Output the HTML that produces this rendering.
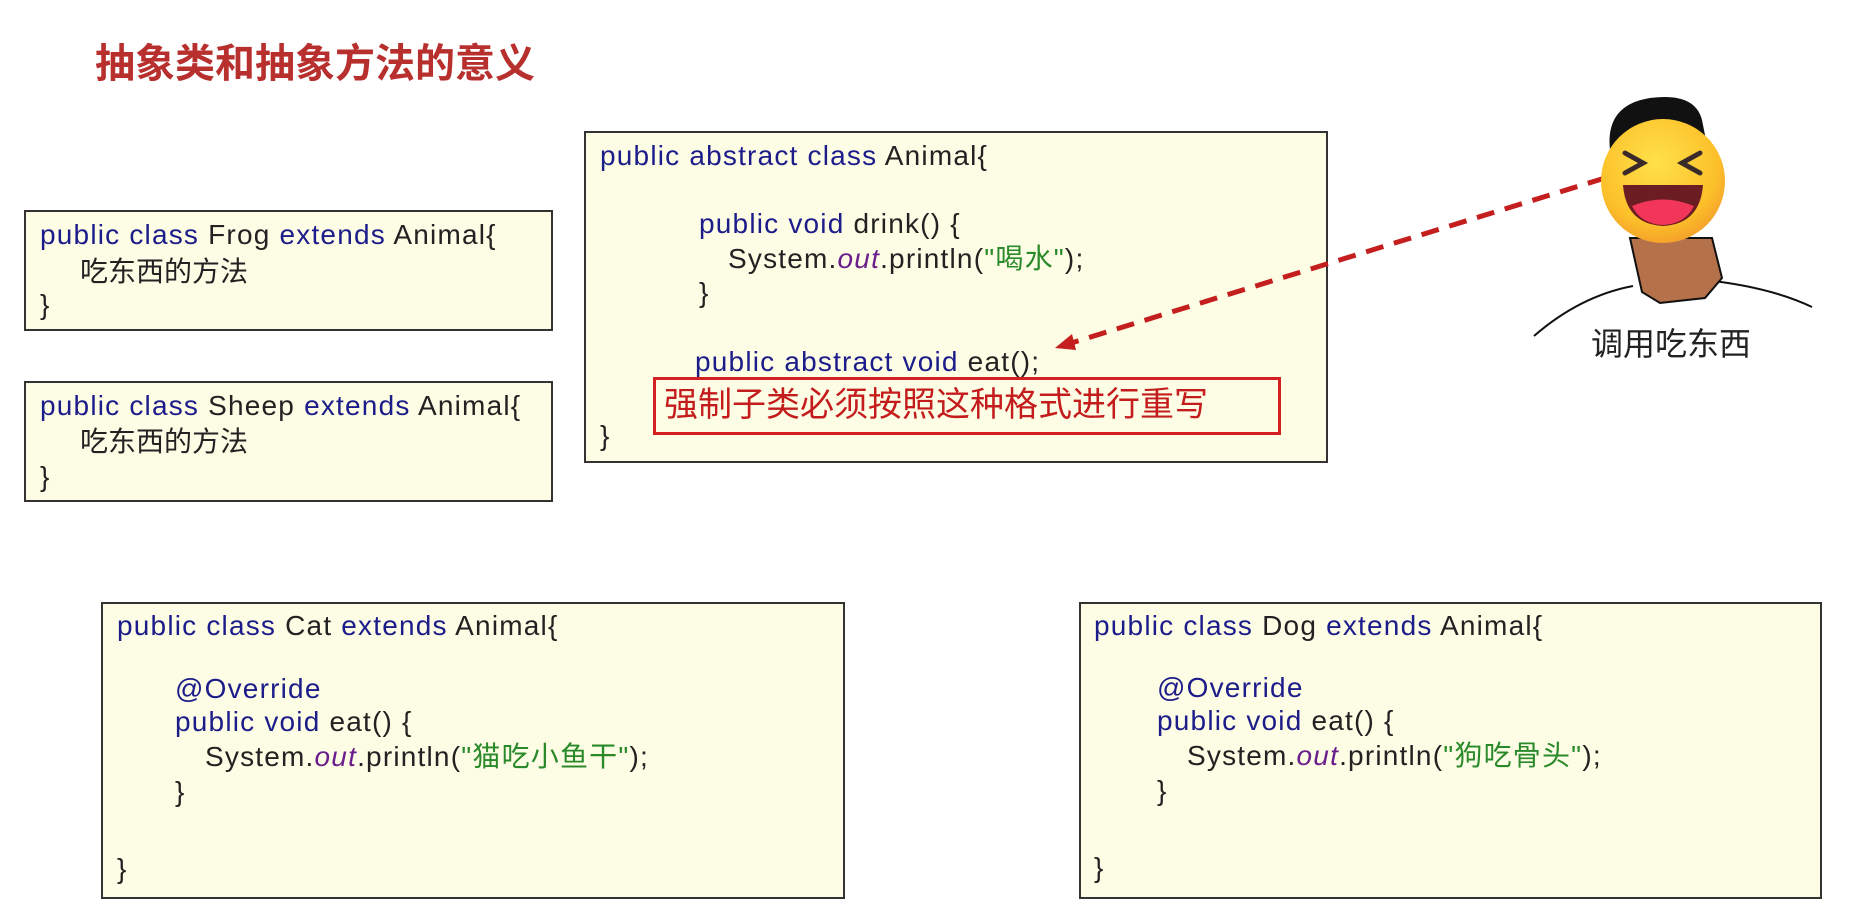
<!DOCTYPE html>
<html><head><meta charset="utf-8"><style>
body{margin:0;width:1869px;height:907px;background:#fff;position:relative;overflow:hidden;font-family:"Liberation Sans","Noto Sans CJK SC",sans-serif;}
.box{position:absolute;background:#fdfce4;border:2px solid #333;box-sizing:border-box;}
.t{position:absolute;font-size:28px;line-height:30px;white-space:nowrap;color:#222;letter-spacing:1.2px;}
.k{color:#1c1c8a}.o{color:#6b1f8c;font-style:italic}.s{color:#2a8a2a}
</style></head><body>
<div class="t" style="left:95px;top:42px;font-size:40px;line-height:44px;font-weight:bold;color:#b8302e;letter-spacing:0">抽象类和抽象方法的意义</div>

<div class="box" style="left:24px;top:210px;width:529px;height:121px"></div>
<div class="t" style="left:40px;top:220px"><span class="k">public class</span> Frog <span class="k">extends</span> Animal{</div>
<div class="t" style="left:80px;top:257px;letter-spacing:0">吃东西的方法</div>
<div class="t" style="left:40px;top:290px">}</div>

<div class="box" style="left:24px;top:381px;width:529px;height:121px"></div>
<div class="t" style="left:40px;top:391px"><span class="k">public class</span> Sheep <span class="k">extends</span> Animal{</div>
<div class="t" style="left:80px;top:427px;letter-spacing:0">吃东西的方法</div>
<div class="t" style="left:40px;top:462px">}</div>

<div class="box" style="left:584px;top:131px;width:744px;height:332px"></div>
<div class="t" style="left:600px;top:141px"><span class="k">public abstract class</span> Animal{</div>
<div class="t" style="left:699px;top:209px"><span class="k">public void</span> drink() {</div>
<div class="t" style="left:728px;top:244px">System.<span class="o">out</span>.println(<span class="s">"喝水"</span>);</div>
<div class="t" style="left:699px;top:278px">}</div>
<div class="t" style="left:695px;top:347px"><span class="k">public abstract void</span> eat();</div>
<div class="t" style="left:600px;top:421px">}</div>
<div style="position:absolute;left:653px;top:377px;width:628px;height:58px;border:3px solid #d42020;box-sizing:border-box"></div>
<div class="t" style="left:664px;top:387px;font-size:34px;line-height:36px;color:#c41c1c;letter-spacing:0">强制子类必须按照这种格式进行重写</div>

<div class="box" style="left:101px;top:602px;width:744px;height:297px"></div>
<div class="t" style="left:117px;top:611px"><span class="k">public class</span> Cat <span class="k">extends</span> Animal{</div>
<div class="t" style="left:175px;top:674px" ><span class="k">@Override</span></div>
<div class="t" style="left:175px;top:707px"><span class="k">public void</span> eat() {</div>
<div class="t" style="left:205px;top:742px">System.<span class="o">out</span>.println(<span class="s">"猫吃小鱼干"</span>);</div>
<div class="t" style="left:175px;top:777px">}</div>
<div class="t" style="left:117px;top:854px">}</div>

<div class="box" style="left:1079px;top:602px;width:743px;height:297px"></div>
<div class="t" style="left:1094px;top:611px"><span class="k">public class</span> Dog <span class="k">extends</span> Animal{</div>
<div class="t" style="left:1157px;top:673px"><span class="k">@Override</span></div>
<div class="t" style="left:1157px;top:706px"><span class="k">public void</span> eat() {</div>
<div class="t" style="left:1187px;top:741px">System.<span class="o">out</span>.println(<span class="s">"狗吃骨头"</span>);</div>
<div class="t" style="left:1157px;top:776px">}</div>
<div class="t" style="left:1094px;top:853px">}</div>

<svg style="position:absolute;left:0;top:0" width="1869" height="907">
<defs><radialGradient id="g" cx="0.45" cy="0.35" r="0.7"><stop offset="0" stop-color="#ffe14a"/><stop offset="0.7" stop-color="#fcc02a"/><stop offset="1" stop-color="#f39a2a"/></radialGradient></defs>
<line x1="1605" y1="178" x2="1068" y2="344" stroke="#c41e1e" stroke-width="5" stroke-dasharray="18,11"/>
<polygon points="1055,348 1072,334 1076,350" fill="#c41e1e"/>
<path d="M1534,336 Q1580,296 1633,286 M1705,280 Q1770,287 1812,307" stroke="#111" stroke-width="2" fill="none"/>
<path d="M1630,238 L1642,292 L1660,303 L1705,298 L1722,278 L1712,238 Z" fill="#b4714a" stroke="#111" stroke-width="2"/>
<path d="M1610,150 Q1605,105 1650,98 Q1695,92 1702,120 L1708,150 Q1660,125 1618,160 Z" fill="#111"/>
<circle cx="1663" cy="181" r="62" fill="url(#g)"/>
<path d="M1625,153 l18,10 l-18,10 M1700,153 l-18,10 l18,10" stroke="#3a2a2a" stroke-width="5" fill="none" stroke-linecap="round"/>
<path d="M1623,185 L1703,185 Q1700,224 1663,226 Q1626,224 1623,185 Z" fill="#6b1d22"/>
<path d="M1632,206 Q1663,193 1694,206 Q1685,224 1663,225 Q1641,224 1632,206 Z" fill="#f2365a"/>
</svg>
<div class="t" style="left:1591px;top:326px;font-size:32px;line-height:36px;color:#222;letter-spacing:0">调用吃东西</div>
</body></html>
